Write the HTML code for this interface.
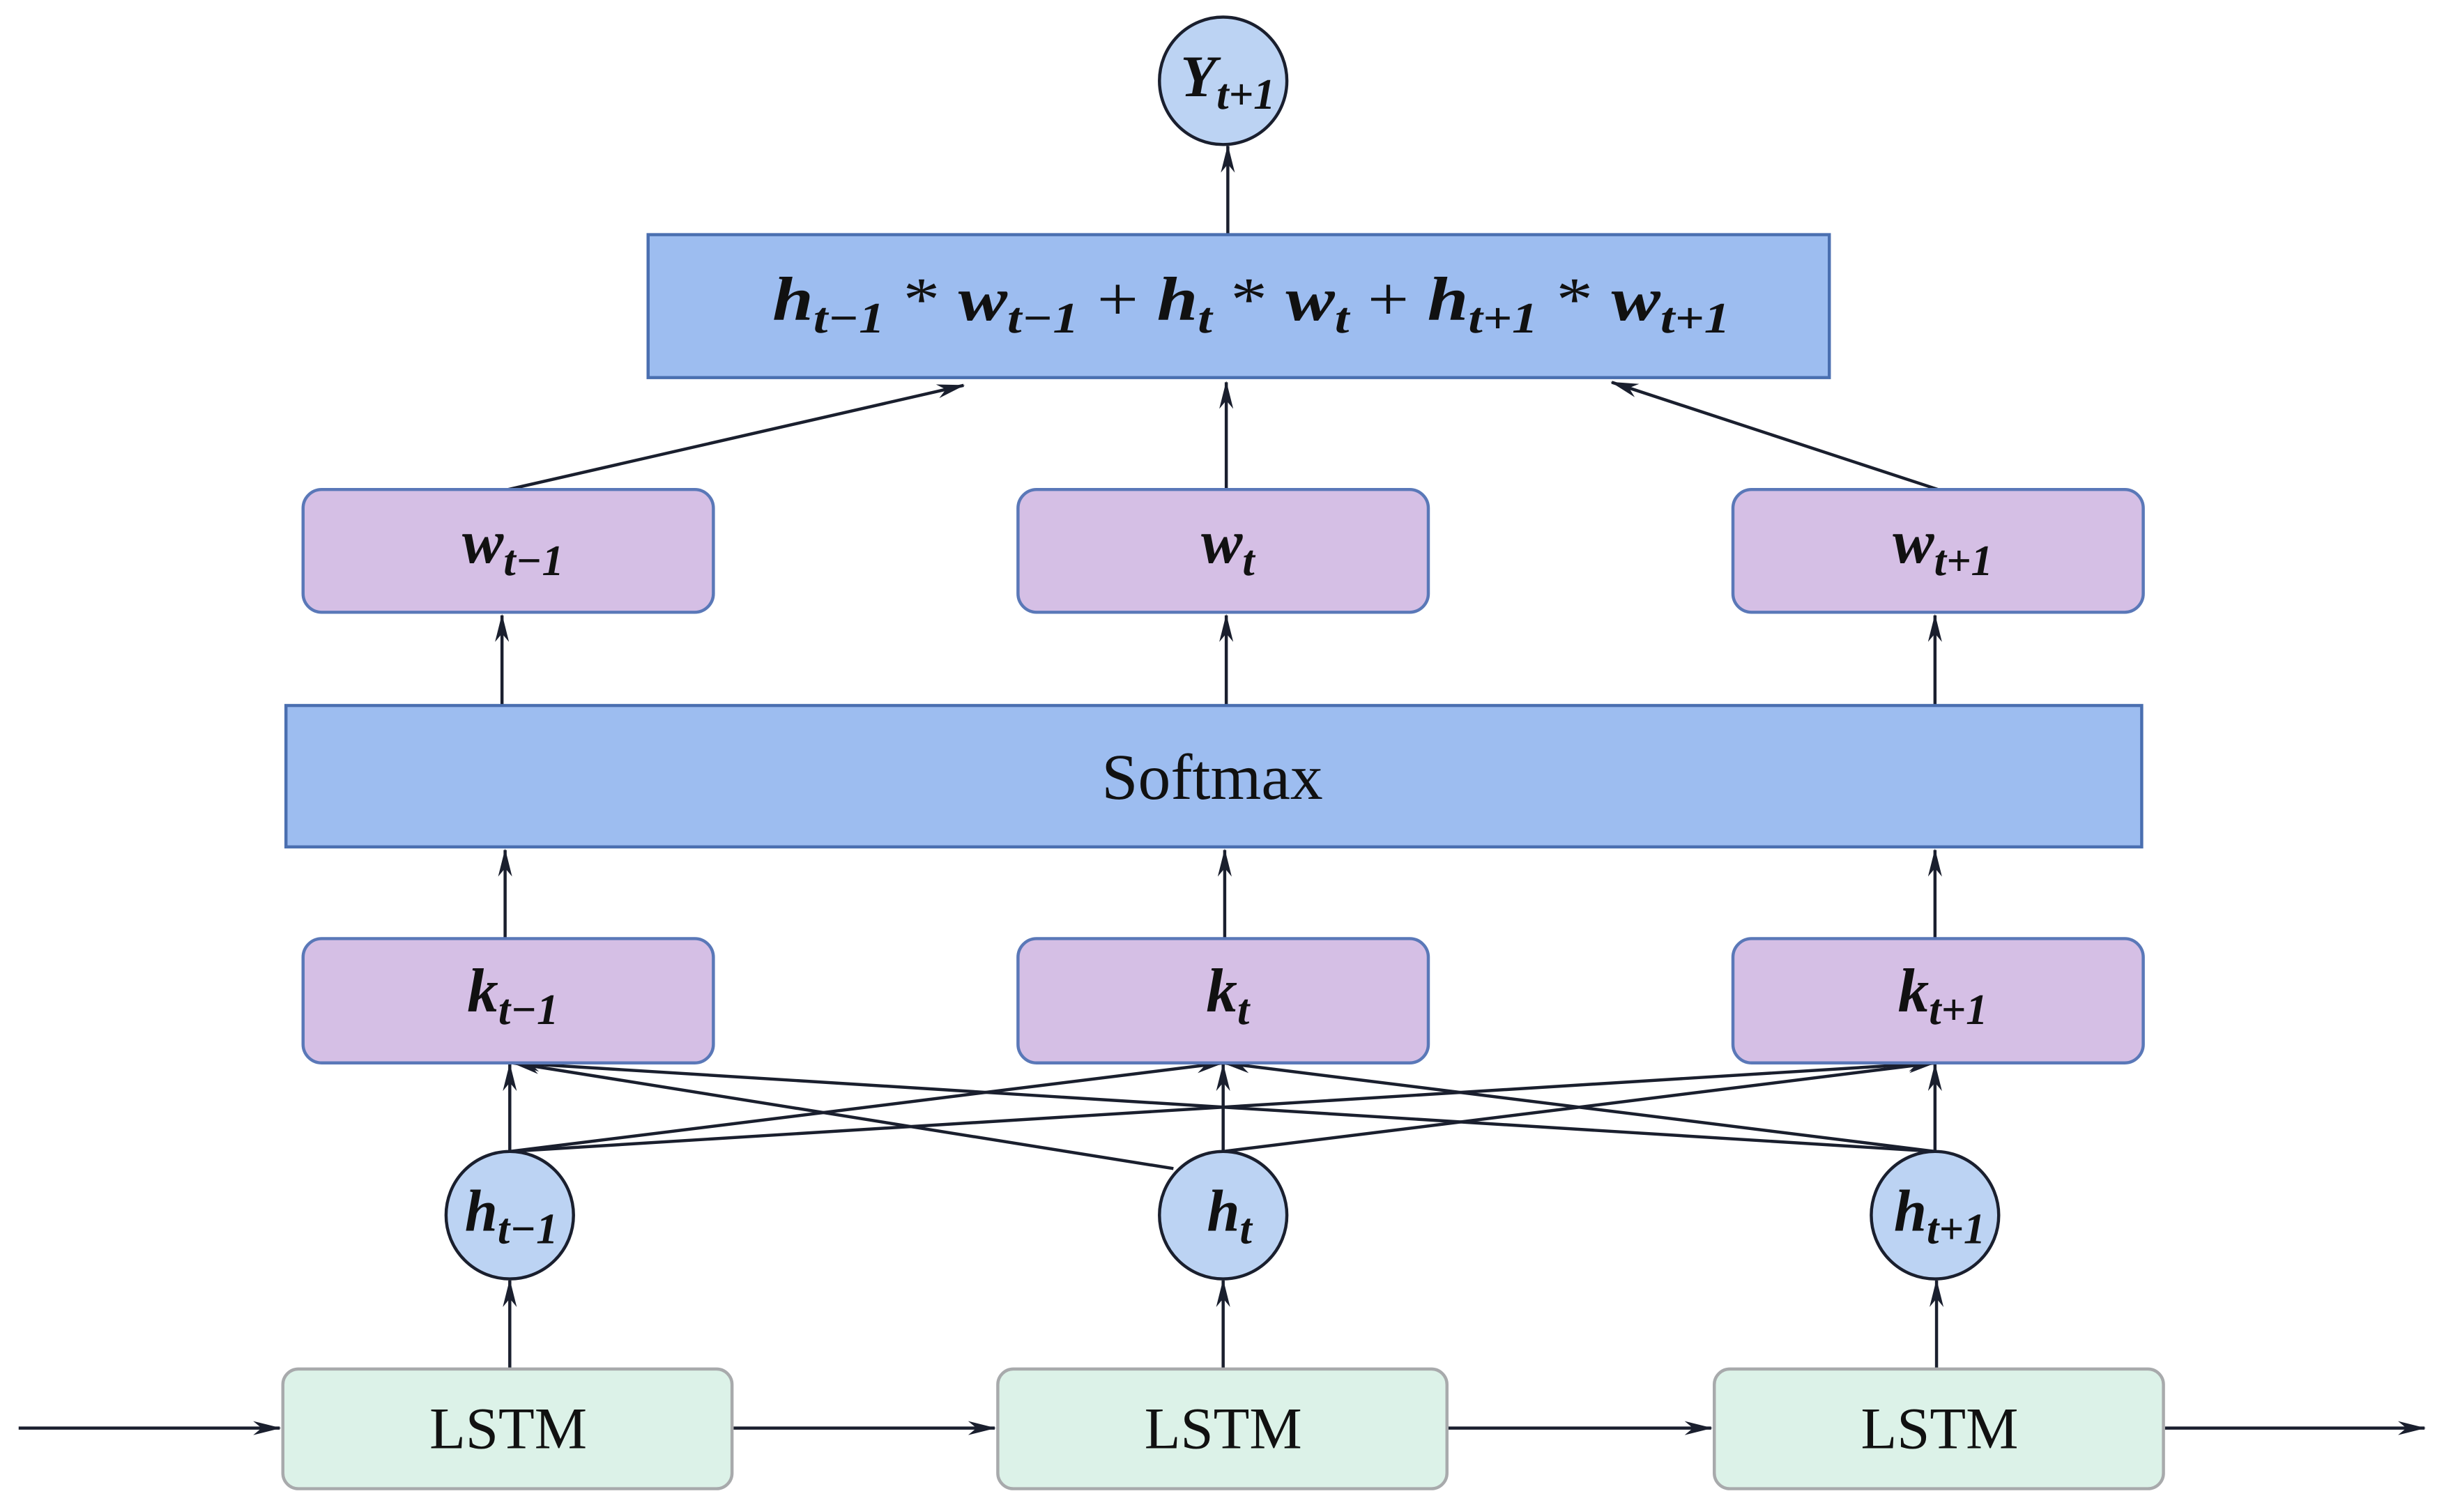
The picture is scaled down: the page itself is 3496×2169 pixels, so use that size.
<!DOCTYPE html>
<html><head><meta charset="utf-8"><style>html,body{margin:0;padding:0;background:#fff}svg{display:block}</style></head>
<body>
<svg width="3496" height="2169" viewBox="0 0 1568 973" preserveAspectRatio="none" xmlns="http://www.w3.org/2000/svg" font-family="'Liberation Serif', serif">
<defs>
<marker id="a" viewBox="0 0 20 10" refX="19" refY="5" markerWidth="18" markerHeight="9" markerUnits="userSpaceOnUse" orient="auto">
<path d="M0,0 L20,5 L0,10 L6,5 Z" fill="#1a1f2e"/>
</marker>
</defs>
<g stroke="#1a1f2e" stroke-width="2" fill="none" marker-end="url(#a)">
<line x1="790" y1="151" x2="790" y2="94"/>
<line x1="327" y1="315" x2="620" y2="248"/>
<line x1="789" y1="315" x2="789" y2="246"/>
<line x1="1247" y1="315" x2="1037" y2="246"/>
<line x1="323" y1="454" x2="323" y2="396"/>
<line x1="789" y1="454" x2="789" y2="396"/>
<line x1="1245" y1="454" x2="1245" y2="396"/>
<line x1="325" y1="604" x2="325" y2="547"/>
<line x1="788" y1="604" x2="788" y2="547"/>
<line x1="1245" y1="604" x2="1245" y2="547"/>
<line x1="328" y1="741" x2="328" y2="685"/>
<line x1="787" y1="741" x2="787" y2="685"/>
<line x1="1245" y1="741" x2="1245" y2="685"/>
<line x1="328" y1="741" x2="787" y2="684"/>
<line x1="328" y1="741" x2="1245" y2="684"/>
<line x1="755" y1="752" x2="330" y2="684"/>
<line x1="787" y1="741" x2="1245" y2="684"/>
<line x1="1245" y1="741" x2="330" y2="684"/>
<line x1="1245" y1="741" x2="787" y2="684"/>
<line x1="328" y1="881" x2="328" y2="824"/>
<line x1="787" y1="881" x2="787" y2="824"/>
<line x1="1246" y1="881" x2="1246" y2="824"/>
<line x1="12" y1="919" x2="180" y2="919"/>
<line x1="472" y1="919" x2="640" y2="919"/>
<line x1="932" y1="919" x2="1101" y2="919"/>
<line x1="1393" y1="919" x2="1560" y2="919"/>
</g>
<rect x="417" y="151" width="760" height="92" fill="#9dbdf0" stroke="#4a6fb0" stroke-width="2"/>
<rect x="184" y="454" width="1194" height="91" fill="#9dbdf0" stroke="#4a6fb0" stroke-width="2"/>
<g fill="#d5bfe5" stroke="#5a78b8" stroke-width="2">
<rect x="195" y="315" width="264" height="79" rx="12"/>
<rect x="655" y="315" width="264" height="79" rx="12"/>
<rect x="1115" y="315" width="264" height="79" rx="12"/>
<rect x="195" y="604" width="264" height="80" rx="12"/>
<rect x="655" y="604" width="264" height="80" rx="12"/>
<rect x="1115" y="604" width="264" height="80" rx="12"/>
</g>
<g fill="#dcf2e8" stroke="#a8aaac" stroke-width="2">
<rect x="182" y="881" width="289" height="77" rx="10"/>
<rect x="642" y="881" width="289" height="77" rx="10"/>
<rect x="1103" y="881" width="289" height="77" rx="10"/>
</g>
<g fill="#bcd3f3" stroke="#1a1f2e" stroke-width="2">
<circle cx="787" cy="52" r="41"/>
<circle cx="328" cy="782" r="41"/>
<circle cx="787" cy="782" r="41"/>
<circle cx="1245" cy="782" r="41"/>
</g>
<g fill="#111" font-weight="bold" font-style="italic" text-anchor="middle">
<text x="790" y="62" font-size="38">Y<tspan font-size="28" dy="8">t+1</tspan></text>
<text x="329" y="792" font-size="38">h<tspan font-size="28" dy="8">t−1</tspan></text>
<text x="791" y="792" font-size="38">h<tspan font-size="28" dy="8">t</tspan></text>
<text x="1248" y="792" font-size="38">h<tspan font-size="28" dy="8">t+1</tspan></text>
<text x="330" y="362" font-size="40">w<tspan font-size="28" dy="8">t−1</tspan></text>
<text x="790" y="362" font-size="40">w<tspan font-size="28" dy="8">t</tspan></text>
<text x="1250" y="362" font-size="40">w<tspan font-size="28" dy="8">t+1</tspan></text>
<text x="330" y="651" font-size="40">k<tspan font-size="28" dy="8">t−1</tspan></text>
<text x="790" y="651" font-size="40">k<tspan font-size="28" dy="8">t</tspan></text>
<text x="1250" y="651" font-size="40">k<tspan font-size="28" dy="8">t+1</tspan></text>
<text x="497" y="206" font-size="40" text-anchor="start" textLength="616" lengthAdjust="spacingAndGlyphs">h<tspan font-size="28" dy="8">t−1</tspan><tspan dy="-8" font-style="normal" font-weight="normal"> * </tspan>w<tspan font-size="28" dy="8">t−1</tspan><tspan dy="-8" font-style="normal" font-weight="normal"> +   </tspan>h<tspan font-size="28" dy="8">t</tspan><tspan dy="-8" font-style="normal" font-weight="normal"> * </tspan>w<tspan font-size="28" dy="8">t</tspan><tspan dy="-8" font-style="normal" font-weight="normal"> + </tspan>h<tspan font-size="28" dy="8">t+1</tspan><tspan dy="-8" font-style="normal" font-weight="normal"> * </tspan>w<tspan font-size="28" dy="8">t+1</tspan></text>
</g>
<g fill="#111" text-anchor="middle">
<text x="780" y="514" font-size="42">Softmax</text>
<text x="327" y="932" font-size="38">LSTM</text>
<text x="787" y="932" font-size="38">LSTM</text>
<text x="1248" y="932" font-size="38">LSTM</text>
</g>
</svg>
</body></html>
